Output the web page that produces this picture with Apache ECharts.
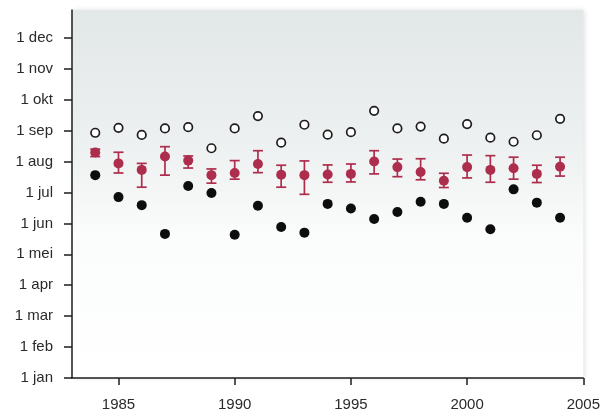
<!DOCTYPE html>
<html>
<head>
<meta charset="utf-8">
<script src="https://cdn.jsdelivr.net/npm/echarts@6/dist/echarts.min.js"></script>
<style>
  html, body { margin: 0; padding: 0; background: #ffffff; }
  #chart { width: 603px; height: 416px; }
</style>
</head>
<body>
<div id="chart"></div>
<script>
// Years of observation
const years = [1984, 1985, 1986, 1987, 1988, 1989, 1990, 1991, 1992, 1993, 1994,
               1995, 1996, 1997, 1998, 1999, 2000, 2001, 2002, 2003, 2004];

// Dates expressed in months after 1 January (0 = 1 jan, 7 = 1 aug, ...)
const latest   = [7.93, 8.09, 7.86, 8.07, 8.11, 7.43, 8.07, 8.47, 7.61, 8.19, 7.87,
                  7.95, 8.64, 8.07, 8.13, 7.74, 8.21, 7.77, 7.64, 7.85, 8.38];
const mean     = [7.29, 6.94, 6.73, 7.16, 7.03, 6.56, 6.63, 6.92, 6.57, 6.56, 6.58,
                  6.60, 7.00, 6.82, 6.66, 6.38, 6.82, 6.73, 6.78, 6.60, 6.83];
const meanLow  = [7.16, 6.63, 6.17, 6.56, 6.79, 6.30, 6.43, 6.64, 6.17, 5.94, 6.33,
                  6.34, 6.60, 6.51, 6.41, 6.16, 6.47, 6.33, 6.43, 6.32, 6.53];
const meanHigh = [7.40, 7.30, 6.94, 7.48, 7.18, 6.76, 7.03, 7.35, 6.88, 7.02, 6.89,
                  6.92, 7.35, 7.08, 7.09, 6.62, 7.21, 7.19, 7.14, 6.88, 7.14];
const earliest = [6.56, 5.85, 5.59, 4.66, 6.21, 5.98, 4.63, 5.57, 4.88, 4.70, 5.63,
                  5.48, 5.14, 5.37, 5.70, 5.63, 5.18, 4.81, 6.10, 5.67, 5.18];

// Axis tick labels
const monthLabels = ['1 jan', '1 feb', '1 mar', '1 apr', '1 mei', '1 jun',
                     '1 jul', '1 aug', '1 sep', '1 okt', '1 nov', '1 dec'];
const yearTicks = [1985, 1990, 1995, 2000, 2005];

const monthTicks = monthLabels.map((_, i) => i);
const pairs = arr => years.map((y, i) => [y, arr[i]]);
const errData = years.map((y, i) => [y, meanLow[i], meanHigh[i]]);

const RED = '#ad2d4c';
const INK = '#1e1e1e';

const chart = echarts.init(document.getElementById('chart'), null, { renderer: 'canvas' });

chart.setOption({
  animation: false,
  backgroundColor: '#ffffff',
  grid: {
    left: 72, right: 18, top: 10, bottom: 38,
    show: true,
    borderWidth: 0,
    backgroundColor: new echarts.graphic.LinearGradient(0, 0, 0, 1, [
      { offset: 0, color: '#e2e7e8' },
      { offset: 0.35, color: '#edf0f0' },
      { offset: 0.62, color: '#fbfcfc' },
      { offset: 1, color: '#ffffff' }
    ]),
    shadowColor: 'rgba(0,0,0,0.12)',
    shadowBlur: 5,
    shadowOffsetX: 2
  },
  xAxis: {
    type: 'value',
    min: 1983,
    max: 2005,
    axisLine: { show: true, onZero: false, lineStyle: { color: INK, width: 1.5 } },
    axisTick: { show: true, length: 7, customValues: yearTicks, lineStyle: { color: INK, width: 1.5 } },
    axisLabel: {
      customValues: yearTicks,
      formatter: v => String(v),
      margin: 19,
      fontFamily: 'Liberation Sans, Arial, sans-serif',
      fontSize: 15,
      color: '#2a2a2a'
    },
    splitLine: { show: false }
  },
  yAxis: {
    type: 'value',
    min: 0,
    max: 11.9,
    axisLine: { show: true, onZero: false, lineStyle: { color: INK, width: 1.5 } },
    axisTick: { show: true, length: 8, customValues: monthTicks, lineStyle: { color: INK, width: 1.5 } },
    axisLabel: {
      customValues: monthTicks,
      formatter: v => monthLabels[Math.round(v)],
      margin: 19,
      fontFamily: 'Liberation Sans, Arial, sans-serif',
      fontSize: 15,
      color: '#2a2a2a'
    },
    splitLine: { show: false }
  },
  series: [
    {
      // spread around the mean date
      type: 'custom',
      data: errData,
      z: 2,
      renderItem: function (params, api) {
        const x = api.value(0);
        const lo = api.coord([x, api.value(1)]);
        const hi = api.coord([x, api.value(2)]);
        const half = 5;
        const style = { stroke: RED, lineWidth: 1.7, fill: null };
        return {
          type: 'group',
          children: [
            { type: 'line', shape: { x1: lo[0], y1: lo[1], x2: hi[0], y2: hi[1] }, style: style },
            { type: 'line', shape: { x1: lo[0] - half, y1: lo[1], x2: lo[0] + half, y2: lo[1] }, style: style },
            { type: 'line', shape: { x1: hi[0] - half, y1: hi[1], x2: hi[0] + half, y2: hi[1] }, style: style }
          ]
        };
      }
    },
    {
      name: 'mean',
      type: 'scatter',
      data: pairs(mean),
      symbol: 'circle',
      symbolSize: 10,
      z: 3,
      itemStyle: { color: RED, opacity: 1 }
    },
    {
      name: 'latest',
      type: 'scatter',
      data: pairs(latest),
      symbol: 'circle',
      symbolSize: 8.5,
      z: 3,
      itemStyle: { color: '#ffffff', borderColor: INK, borderWidth: 1.7, opacity: 1 }
    },
    {
      name: 'earliest',
      type: 'scatter',
      data: pairs(earliest),
      symbol: 'circle',
      symbolSize: 10,
      z: 3,
      itemStyle: { color: '#0d0d0d', opacity: 1 }
    }
  ]
});
</script>
</body>
</html>
